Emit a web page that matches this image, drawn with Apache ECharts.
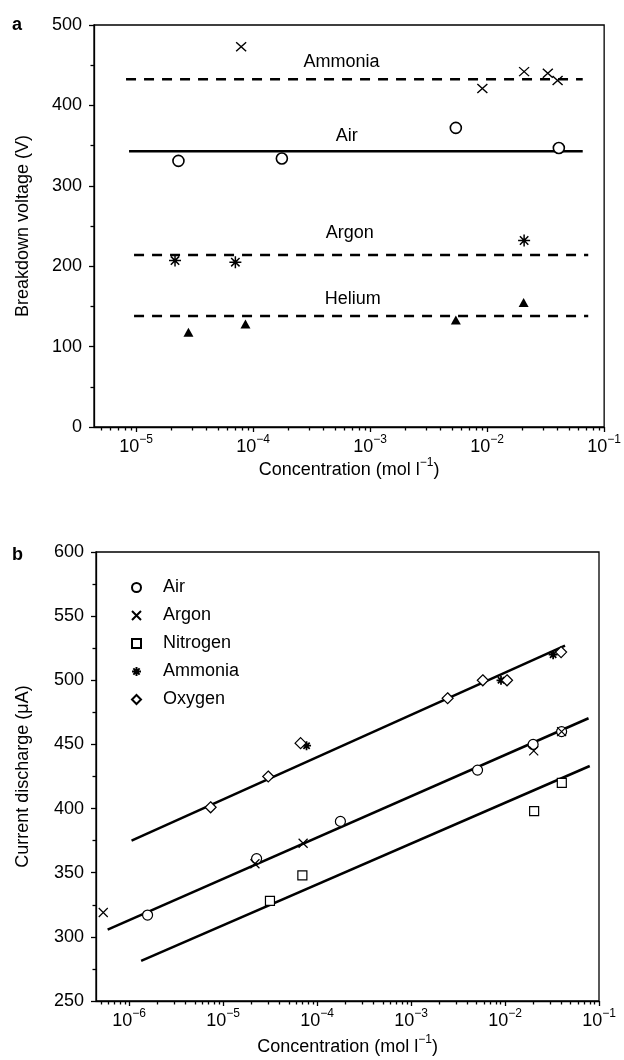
<!DOCTYPE html>
<html>
<head>
<meta charset="utf-8">
<script src="https://cdn.jsdelivr.net/npm/echarts@6/dist/echarts.min.js"></script>
<style>
  html, body { margin: 0; padding: 0; background: #fff; }
  #chart { width: 624px; height: 1060px; }
</style>
</head>
<body>
<div id="chart"></div>
<script>
// ---- panel a: breakdown voltage (V) vs concentration (mol/l)
const aAmmoniaC = [7.9e-5, 9.1e-3, 2.07e-2, 3.3e-2, 4.0e-2];
const aAmmoniaV = [473, 421, 442, 440, 431];
const aAirC = [2.3e-5, 1.76e-4, 5.4e-3, 4.1e-2];
const aAirV = [331, 334, 372, 347];
const aArgonC = [2.15e-5, 7.05e-5, 2.07e-2];
const aArgonV = [207, 205, 232];
const aHeliumC = [2.8e-5, 8.6e-5, 5.4e-3, 2.05e-2];
const aHeliumV = [118, 128, 133, 155];
// mean levels drawn as horizontal lines
const aLevelNames = ['Ammonia', 'Air', 'Argon', 'Helium'];
const aLevelV = [432.5, 343, 214, 138];
const aLevelStartC = [8.2e-6, 8.7e-6, 9.6e-6, 9.6e-6];
const aLevelEndC = [0.0656, 0.0656, 0.0731, 0.0731];
// where the gas names sit
const aNoteC = [5.7e-4, 6.3e-4, 6.7e-4, 7.1e-4];
const aNoteV = [454, 362, 241, 159];
const aExp = [-5, -4, -3, -2, -1];

// ---- panel b: current discharge (uA) vs concentration (mol/l)
const bAirC = [1.57e-6, 2.27e-5, 1.77e-4, 5.1e-3, 1.99e-2, 4.0e-2];
const bAirV = [317, 361, 390, 430, 450, 460];
const bArgonC = [5.3e-7, 2.18e-5, 7.1e-5, 2.02e-2, 4.0e-2];
const bArgonV = [319, 357, 373, 445, 460];
const bNitrogenC = [3.15e-5, 6.97e-5, 2.04e-2, 4.02e-2];
const bNitrogenV = [328, 348, 398, 420];
const bAmmoniaC = [7.72e-5, 9.06e-3, 3.25e-2];
const bAmmoniaV = [449, 500, 520];
const bOxygenC = [7.36e-6, 3.02e-5, 6.67e-5, 2.45e-3, 5.8e-3, 1.05e-2, 3.95e-2];
const bOxygenV = [401, 425, 451, 486, 500, 500, 522];
// fitted lines
const bFitStartC = [1.06e-6, 5.9e-7, 1.34e-6];
const bFitStartV = [375, 305.7, 281.2];
const bFitEndC = [0.0435, 0.0774, 0.0797];
const bFitEndV = [527, 470.4, 433.2];
const bExp = [-6, -5, -4, -3, -2, -1];

const font = "'Liberation Sans', Arial, sans-serif";
const ink = '#000';

const lg = v => Math.log10(v);
const pts = (c, v) => c.map((x, i) => [lg(x), v[i]]);
function minorTicks(lo, hi) {
  const out = [];
  for (let e = Math.floor(lo); e < hi; e++) {
    for (let k = 2; k <= 9; k++) {
      const t = e + Math.log10(k);
      if (t >= lo && t <= hi) out.push(t);
    }
  }
  return out;
}
const aMin = -5.36, aMax = -1;
const bMin = -6.353, bMax = -1;

const supRich = {
  b: { fontSize: 18, fontFamily: font, color: ink, verticalAlign: 'bottom', lineHeight: 22 },
  s: { fontSize: 12, fontFamily: font, color: ink, verticalAlign: 'top', lineHeight: 22, padding: [0, 0, 9, 0] }
};

function majorX(gridIndex, min, max, exps, gap) {
  return {
    type: 'value', gridIndex, min, max,
    splitLine: { show: false },
    axisLine: { onZero: false, lineStyle: { color: ink, width: 1.3 } },
    axisTick: { length: 5, customValues: exps, lineStyle: { color: ink, width: 1.3 } },
    axisLabel: {
      customValues: exps, margin: 7,
      formatter: v => '{b|10}{s|−' + Math.abs(Math.round(v)) + '}',
      rich: supRich
    },
    name: '{b|Concentration (mol l}{s|−1}{b|)}',
    nameLocation: 'middle', nameGap: gap,
    nameTextStyle: { rich: supRich }
  };
}
function minorX(gridIndex, min, max) {
  return {
    type: 'value', gridIndex, min, max, position: 'bottom',
    splitLine: { show: false }, axisLine: { show: false, onZero: false },
    axisLabel: { show: false },
    axisTick: { length: 3.5, customValues: minorTicks(min, max), lineStyle: { color: ink, width: 1.3 } }
  };
}
function yAx(gridIndex, min, max, interval, name, gap) {
  return {
    type: 'value', gridIndex, min, max, interval,
    splitLine: { show: false },
    axisLine: { show: true, lineStyle: { color: ink, width: 1.3 } },
    axisTick: { length: 5, lineStyle: { color: ink, width: 1.3 } },
    minorTick: { show: true, splitNumber: 2, length: 3.5, lineStyle: { color: ink, width: 1.3 } },
    axisLabel: { color: ink, fontSize: 18, fontFamily: font, margin: 12 },
    name, nameLocation: 'middle', nameGap: gap,
    nameTextStyle: { color: ink, fontSize: 18, fontFamily: font }
  };
}

const crossPath = 'path://M0,0L20,20M0,20L20,0';
const starPath = 'path://M10,0L10,20M0,10L20,10M3,3L17,17M3,17L17,3';

function scat(name, xi, yi, data, symbol, size, filled, bw) {
  return {
    name, type: 'scatter', xAxisIndex: xi, yAxisIndex: yi, data,
    symbol, symbolSize: size, z: 5,
    itemStyle: { color: filled ? ink : '#fff', borderColor: ink, borderWidth: bw, opacity: 1 }
  };
}
function seg(xi, yi, data, dashed) {
  return {
    type: 'line', xAxisIndex: xi, yAxisIndex: yi, data,
    symbol: 'none', silent: true, z: 2,
    lineStyle: { color: ink, width: 2.5, type: dashed ? [10, 8] : 'solid' }
  };
}

const series = [];
// panel b markers first so the legend takes their icons
series.push(scat('Air', 2, 1, pts(bAirC, bAirV), 'circle', 10, false, 1.2));
series.push(scat('Argon', 2, 1, pts(bArgonC, bArgonV), crossPath, 9, false, 1.2));
series.push(scat('Nitrogen', 2, 1, pts(bNitrogenC, bNitrogenV), 'rect', 9, false, 1.2));
series.push(scat('Ammonia', 2, 1, pts(bAmmoniaC, bAmmoniaV), starPath, 9, true, 1.8));
series.push(scat('Oxygen', 2, 1, pts(bOxygenC, bOxygenV), 'diamond', 11, false, 1.2));
bFitStartC.forEach((c, i) => {
  series.push(seg(2, 1, [[lg(c), bFitStartV[i]], [lg(bFitEndC[i]), bFitEndV[i]]], false));
});

// panel a
aLevelNames.forEach((n, i) => {
  series.push(seg(0, 0, [[lg(aLevelStartC[i]), aLevelV[i]], [lg(aLevelEndC[i]), aLevelV[i]]], n !== 'Air'));
});
series.push(scat('a Ammonia', 0, 0, pts(aAmmoniaC, aAmmoniaV), crossPath, [10, 9], false, 1.3));
series.push(scat('a Air', 0, 0, pts(aAirC, aAirV), 'circle', 11, false, 1.6));
series.push(scat('a Argon', 0, 0, pts(aArgonC, aArgonV), starPath, 12, true, 1.5));
series.push(scat('a Helium', 0, 0, pts(aHeliumC, aHeliumV), 'triangle', [10, 9], true, 0));
series.push({
  type: 'scatter', xAxisIndex: 0, yAxisIndex: 0, symbolSize: 0, silent: true,
  itemStyle: { opacity: 1 },
  data: aNoteC.map((c, i) => ({ name: aLevelNames[i], value: [lg(c), aNoteV[i]] })),
  label: { show: true, position: 'inside', formatter: '{b}', color: ink, opacity: 1, fontSize: 18, fontFamily: font }
});

const chart = echarts.init(document.getElementById('chart'), null, { renderer: 'canvas' });
chart.setOption({
  backgroundColor: '#fff',
  animation: false,
  textStyle: { fontFamily: font, color: ink },
  title: [
    { text: 'a', left: 7, top: 11, textStyle: { fontSize: 18, fontWeight: 'bold', color: ink, fontFamily: font } },
    { text: 'b', left: 7, top: 541, textStyle: { fontSize: 18, fontWeight: 'bold', color: ink, fontFamily: font } }
  ],
  grid: [
    { left: 94, right: 15.5, top: 25, bottom: 633, show: true, borderColor: ink, borderWidth: 1.3 },
    { left: 96, right: 25, top: 552, bottom: 59, show: true, borderColor: ink, borderWidth: 1.3 }
  ],
  xAxis: [
    majorX(0, aMin, aMax, aExp, 30),
    minorX(0, aMin, aMax),
    majorX(1, bMin, bMax, bExp, 33),
    minorX(1, bMin, bMax)
  ],
  yAxis: [
    yAx(0, 0, 500, 100, 'Breakdown voltage (V)', 62),
    yAx(1, 250, 600, 50, 'Current discharge (μA)', 64)
  ],
  legend: {
    data: ['Air', 'Argon', 'Nitrogen', 'Ammonia', 'Oxygen'],
    orient: 'vertical', left: 126, top: 573,
    itemWidth: 9, itemHeight: 9, itemGap: 9,
    selectedMode: false,
    textStyle: { fontSize: 18, fontFamily: font, color: ink, lineHeight: 19, padding: [0, 0, 0, 17] }
  },
  series
});
</script>
</body>
</html>
